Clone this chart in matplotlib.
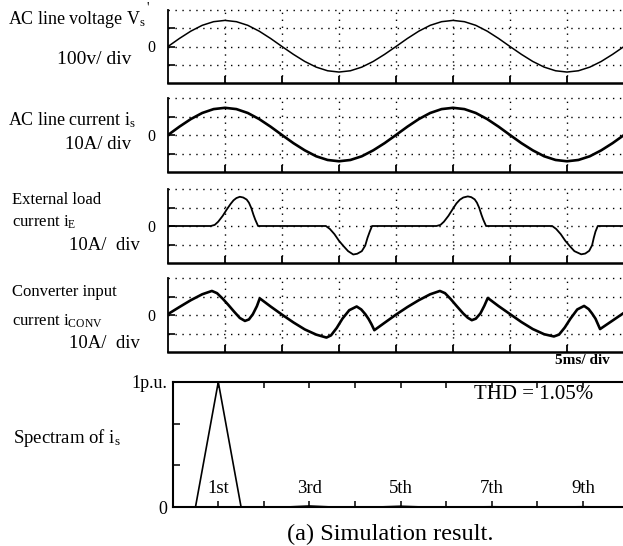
import matplotlib
matplotlib.use("Agg")
import matplotlib.pyplot as plt

plt.rcParams["font.family"] = ["Liberation Serif", "DejaVu Serif"]
plt.rcParams["mathtext.fontset"] = "custom"
plt.rcParams["mathtext.rm"] = "Liberation Serif"
plt.rcParams["mathtext.it"] = "Liberation Serif:italic"

# --- waveform data (time in ms) ---
t_ms = list(range(41))
v_s = [0, 44, 84, 116, 136, 143, 136, 116, 84, 44,
       0, -43, -82, -113, -133, -140, -133, -113, -82, -43,
       0, 44, 84, 116, 136, 143, 136, 116, 84, 44,
       0, -43, -82, -113, -133, -140, -133, -113, -82, -43, 0]
i_s = [0, 4.5, 8.6, 11.9, 14.0, 14.7, 14.0, 11.9, 8.6, 4.5,
       0, -4.4, -8.3, -11.5, -13.5, -14.2, -13.5, -11.5, -8.3, -4.4,
       0, 4.5, 8.6, 11.9, 14.0, 14.7, 14.0, 11.9, 8.6, 4.5,
       0, -4.4, -8.3, -11.5, -13.5, -14.2, -13.5, -11.5, -8.3, -4.4, 0]

t_ie = [0, 3.75, 4.1, 4.4, 4.8, 5.15, 5.5, 5.75, 6.0, 6.3, 6.6, 6.9, 7.1, 7.3, 7.5, 7.65, 7.9,
        13.85, 14.2, 14.6, 15.0, 15.4, 15.8, 16.25, 16.6, 17.0, 17.3, 17.5, 17.7, 17.9,
        23.55, 23.9, 24.2, 24.6, 24.95, 25.3, 25.6, 25.9, 26.3, 26.6, 26.9, 27.1, 27.3, 27.5, 27.65, 27.9,
        33.7, 34.05, 34.45, 34.85, 35.25, 35.65, 36.25, 36.6, 36.95, 37.2, 37.35, 37.5, 37.7, 40]
i_e = [0, 0, 0.6, 2.3, 5.5, 8.9, 12.0, 13.9, 15.1, 15.8, 15.4, 14.3, 12.6, 9.8, 6.0, 3.5, 0,
       0, -1.6, -4.4, -8.0, -10.9, -13.6, -15.4, -15.0, -13.6, -10.6, -6.4, -3.0, 0,
       0, 0.6, 2.3, 5.5, 8.9, 12.2, 14.2, 15.4, 16.0, 15.6, 14.4, 12.6, 9.8, 6.0, 3.5, 0,
       0, -1.6, -4.4, -8.0, -10.9, -13.6, -15.3, -14.9, -13.4, -10.4, -6.4, -3.0, 0, 0]

t_conv = [0, 1, 2, 3, 3.85, 4.3, 4.8, 5.3, 5.8, 6.3, 6.75, 7.1, 7.45, 7.8, 8.05,
          9, 10, 11, 12, 13, 13.9, 14.3, 14.8, 15.3, 15.9, 16.55, 16.95, 17.3, 17.6, 17.85, 18.1,
          19, 20, 21, 22, 23, 23.85, 24.3, 24.8, 25.3, 25.9, 26.3, 26.65, 27.0, 27.4, 27.75, 28.05,
          29, 30, 31, 32, 33, 33.85, 34.3, 34.8, 35.3, 35.9, 36.5, 36.9, 37.2, 37.5, 37.7, 37.9,
          39, 40]
i_conv = [0.5, 4.3, 8.0, 11.2, 13.0, 11.8, 8.8, 5.4, 1.8, -1.6, -3.2, -2.4, 0.5, 4.8, 9.0,
          4.6, 0.2, -4.0, -7.8, -10.6, -12.2, -11.0, -7.0, -2.0, 2.6, 4.6, 3.0, 0.5, -2.2, -5.0, -8.2,
          -4.2, 0.2, 4.3, 8.0, 11.2, 13.0, 11.8, 8.6, 5.0, 0.8, -1.5, -2.8, -2.0, 0.8, 5.0, 9.2,
          4.8, 0.5, -3.8, -7.6, -10.4, -11.6, -10.6, -6.8, -2.0, 3.0, 4.9, 3.2, 0.8, -2.0, -4.8, -7.6,
          -3.0, 1.2]

# --- spectrum of i_s ---
harmonics = [1, 3, 5, 7, 9]
harm_pu = [1.0, 0.008, 0.006, 0.002, 0.002]
harm_labels = ["1st", "3rd", "5th", "7th", "9th"]

W, H = 623, 546
fig = plt.figure(figsize=(W / 100, H / 100), dpi=100)


def px_axes(left, top, right, bottom):
    return fig.add_axes([left / W, 1 - bottom / H, (right - left) / W, (bottom - top) / H])


def scope_panel(top, bottom, t, y, div, lw):
    ax = px_axes(168, top, 624, bottom)
    ax.plot(t, y, color="black", lw=lw, solid_capstyle="round")
    ax.set_xlim(0, 40)
    ax.set_ylim(-2 * div, 2 * div)
    ax.set_xticks([5, 10, 15, 20, 25, 30, 35])
    ax.set_yticks([-div, 0, div])
    ax.set_yticklabels(["", "0", ""])
    ax.tick_params(axis="x", direction="in", length=5, width=1.3, labelbottom=False)
    ax.tick_params(axis="y", direction="in", length=5, width=1.2, pad=9, labelsize=11.5)
    ax.grid(True, color="black", linestyle=(0, (1, 4)), linewidth=1.0)
    ax.axhline(2 * div, color="black", linestyle=(0, (1, 4)), linewidth=1.0, clip_on=False)
    for s in ("top", "right"):
        ax.spines[s].set_visible(False)
    ax.spines["left"].set_linewidth(1.3)
    ax.spines["bottom"].set_linewidth(1.8)
    return ax


scope_panel(10, 83, t_ms, v_s, 100, 1.1)
scope_panel(98, 172, t_ms, i_s, 10, 1.9)
scope_panel(189, 263, t_ie, i_e, 10, 1.3)
scope_panel(278, 352, t_conv, i_conv, 10, 1.9)

# spectrum panel
ax = px_axes(172.7, 382, 623, 507)
half = 0.5
xs, ys = [0], [0]
for h, m in zip(harmonics, harm_pu):
    xs += [h - half, h, h + half]
    ys += [0, m, 0]
xs.append(10)
ys.append(0)
ax.plot(xs, ys, color="black", lw=1.2)
ax.set_xlim(0, 9.88)
ax.set_ylim(0, 1)
ax.set_xticks(range(1, 10))
ax.set_yticks([0, 1 / 3, 2 / 3, 1])
ax.set_yticklabels(["0", "", "", "1p.u."])
ax.tick_params(axis="x", direction="in", length=4, width=1.1, top=True, labelbottom=False)
ax.tick_params(axis="y", direction="in", length=5, width=1.1, pad=4, labelsize=13)
ax.spines["right"].set_visible(False)
for s in ("top", "bottom", "left"):
    ax.spines[s].set_linewidth(1.5)
for h, lab in zip(harmonics, harm_labels):
    ax.text(h, 0.15, lab, ha="center", va="center", fontsize=13.5)
ax.text(6.6, 0.9, "THD = 1.05%", ha="left", va="center", fontsize=15)


# side labels
def label(x, y, s, size=13, ha="left", weight="normal"):
    fig.text(x / W, 1 - y / H, s, ha=ha, va="center", fontsize=size, fontweight=weight)


label(8, 19, r"AC line voltage V$_{\mathrm{s}}$")
label(146, 8, "'", size=10)
label(131, 59, "100v/ div", size=14, ha="right")
label(8, 120, r"AC line current i$_{\mathrm{s}}$")
label(131, 145, "10A/ div", size=13.5, ha="right")
label(12, 200, "External load", size=12)
label(12, 222, r"current i$_{\mathrm{E}}$", size=12)
label(140, 246, "10A/  div", size=13.5, ha="right")
label(12, 292, "Converter input", size=12)
label(12, 321, r"current i$_{\mathrm{CONV}}$", size=12)
label(140, 343, "10A/  div", size=13.5, ha="right")
label(610, 360, "5ms/ div", size=11, ha="right", weight="bold")
label(13, 438, r"Spectram of i$_{\mathrm{s}}$", size=13.5)
label(390, 534, "(a) Simulation result.", size=17.5, ha="center")

fig.savefig("out.png", dpi=100)
